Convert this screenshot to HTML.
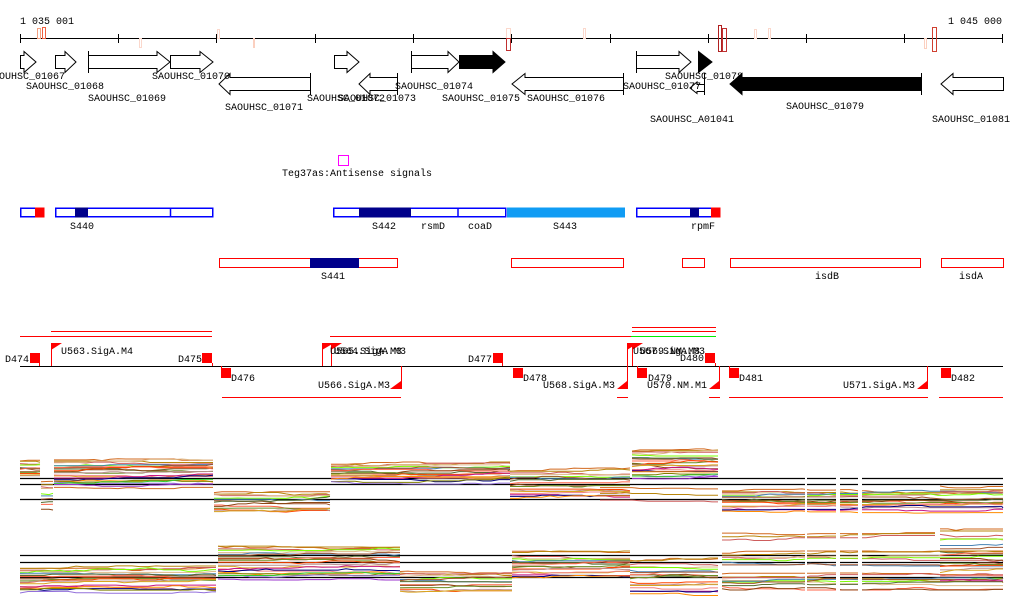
<!DOCTYPE html>
<html><head><meta charset="utf-8"><style>
html,body{margin:0;padding:0;background:#fff;}
svg{display:block;}
text{font-family:"Liberation Mono","DejaVu Sans Mono",monospace;font-size:10px;fill:#000;}
</style></head><body>
<svg id="s" width="1024" height="611" viewBox="0 0 1024 611" xmlns="http://www.w3.org/2000/svg">
<line x1="20" y1="38.5" x2="1002" y2="38.5" stroke="#000"/>
<g stroke="#000">
<line x1="20.5" y1="34" x2="20.5" y2="43"/><line x1="118.5" y1="34" x2="118.5" y2="43"/><line x1="216.5" y1="34" x2="216.5" y2="43"/><line x1="315.5" y1="34" x2="315.5" y2="43"/><line x1="413.5" y1="34" x2="413.5" y2="43"/><line x1="511.5" y1="34" x2="511.5" y2="43"/><line x1="610.5" y1="34" x2="610.5" y2="43"/><line x1="708.5" y1="34" x2="708.5" y2="43"/><line x1="806.5" y1="34" x2="806.5" y2="43"/><line x1="904.5" y1="34" x2="904.5" y2="43"/><line x1="1002.5" y1="34" x2="1002.5" y2="43"/>
</g>
<text x="20" y="24">1 035 001</text>
<text x="1002" y="24" text-anchor="end">1 045 000</text>
<g fill="none">
<rect x="37.5" y="28.5" width="3" height="10" stroke="#f4a080"/>
<rect x="42.5" y="27.5" width="3" height="11" stroke="#f06040"/>
<rect x="139.5" y="38.5" width="2" height="9" stroke="#fbd8cc"/>
<rect x="217.5" y="29.5" width="2" height="9" stroke="#fbd8cc"/>
<rect x="253.5" y="38.5" width="1" height="9" stroke="#fbd0c0"/>
<rect x="506.5" y="28.5" width="4" height="22" stroke="#fbd8cc"/>
<rect x="506.5" y="38.5" width="4" height="12" stroke="#c03030"/>
<rect x="583.5" y="28.5" width="2" height="10" stroke="#fbd8cc"/>
<rect x="718.5" y="25.5" width="3" height="26" stroke="#b02020"/>
<rect x="722.5" y="28.5" width="4" height="23" stroke="#c03030"/>
<rect x="754.5" y="29.5" width="2" height="9" stroke="#fbd8cc"/>
<rect x="768.5" y="28.5" width="2" height="10" stroke="#fbd8cc"/>
<rect x="924.5" y="38.5" width="2" height="10" stroke="#fbd0c0"/>
<rect x="932.5" y="27.5" width="4" height="24" stroke="#d04030"/>
</g>
<g stroke="#000" fill="#fff">
<polygon points="20.5,55.5 24,55.5 24,51.5 36,62 24,72.5 24,68.5 20.5,68.5"/>
<polygon points="55.5,55.5 65,55.5 65,51.5 76,62 65,72.5 65,68.5 55.5,68.5"/>
<polygon points="88.5,55.5 157,55.5 157,51.5 170,62 157,72.5 157,68.5 88.5,68.5"/>
<line x1="88.5" y1="51" x2="88.5" y2="73"/>
<polygon points="170.5,55.5 200,55.5 200,51.5 213,62 200,72.5 200,68.5 170.5,68.5"/>
<polygon points="334.5,55.5 347,55.5 347,51.5 359,62 347,72.5 347,68.5 334.5,68.5"/>
<polygon points="411.5,55.5 448,55.5 448,51.5 459,62 448,72.5 448,68.5 411.5,68.5"/>
<line x1="411.5" y1="51" x2="411.5" y2="73"/>
<polygon points="459.5,55.5 493,55.5 493,51.5 505,62 493,72.5 493,68.5 459.5,68.5" fill="#000"/>
<polygon points="636.5,55.5 679,55.5 679,51.5 691,62 679,72.5 679,68.5 636.5,68.5"/>
<line x1="636.5" y1="51" x2="636.5" y2="73"/>
<polygon points="698.5,51.5 712,62 698.5,72.5" fill="#000"/>
<polygon points="310.5,77.5 230,77.5 230,73.5 219,84 230,94.5 230,90.5 310.5,90.5"/>
<line x1="310.5" y1="73" x2="310.5" y2="95"/>
<polygon points="397.5,77.5 370,77.5 370,73.5 359,84 370,94.5 370,90.5 397.5,90.5"/>
<line x1="397.5" y1="73" x2="397.5" y2="95"/>
<polygon points="623.5,77.5 525,77.5 525,73.5 512,84 525,94.5 525,90.5 623.5,90.5"/>
<line x1="623.5" y1="73" x2="623.5" y2="95"/>
<polygon points="704.5,84.5 697,84.5 697,82 690,88 697,93.5 697,91.5 704.5,91.5"/>
<line x1="704.5" y1="73" x2="704.5" y2="95"/>
<polygon points="921.5,77.5 742,77.5 742,73.5 730,84 742,94.5 742,90.5 921.5,90.5" fill="#000"/>
<line x1="921.5" y1="73" x2="921.5" y2="95"/>
<polygon points="1003.5,77.5 953,77.5 953,73.5 941,84 953,94.5 953,90.5 1003.5,90.5"/>
</g>
<text x="-1" y="79">OUHSC_01067</text>
<text x="26" y="89">SAOUHSC_01068</text>
<text x="88" y="101">SAOUHSC_01069</text>
<text x="152" y="79">SAOUHSC_01070</text>
<text x="225" y="110">SAOUHSC_01071</text>
<text x="307" y="101">SAOUHSC_01072</text>
<text x="338" y="101">SAOUHSC_01073</text>
<text x="395" y="89">SAOUHSC_01074</text>
<text x="442" y="101">SAOUHSC_01075</text>
<text x="527" y="101">SAOUHSC_01076</text>
<text x="623" y="89">SAOUHSC_01077</text>
<text x="665" y="79">SAOUHSC_01078</text>
<text x="650" y="122">SAOUHSC_A01041</text>
<text x="786" y="109">SAOUHSC_01079</text>
<text x="932" y="122">SAOUHSC_01081</text>
<rect x="338.5" y="155.5" width="10" height="10" fill="none" stroke="#f0f"/>
<text x="282" y="176">Teg37as:Antisense signals</text>
<g stroke="#00f" stroke-width="1.5" fill="none">
<rect x="20.75" y="208.25" width="23" height="8.5"/>
<rect x="55.75" y="208.25" width="157" height="8.5"/>
<rect x="333.75" y="208.25" width="172" height="8.5"/>
<rect x="636.75" y="208.25" width="83" height="8.5"/>
</g>
<rect x="35" y="207.5" width="9.5" height="10" fill="#f00"/>
<rect x="75" y="207.5" width="13" height="10" fill="#00008b"/>
<line x1="170.5" y1="208" x2="170.5" y2="217" stroke="#00f" stroke-width="1.5"/>
<rect x="359" y="207.5" width="52" height="10" fill="#00008b"/>
<line x1="458" y1="208" x2="458" y2="217" stroke="#00f" stroke-width="1.5"/>
<rect x="507" y="207.5" width="118" height="10" fill="#109cf4"/>
<rect x="690" y="207.5" width="9" height="10" fill="#00008b"/>
<rect x="711" y="207.5" width="9.5" height="10" fill="#f00"/>
<text x="70" y="229">S440</text><text x="372" y="229">S442</text><text x="421" y="229">rsmD</text><text x="468" y="229">coaD</text><text x="553" y="229">S443</text><text x="691" y="229">rpmF</text>
<g stroke="#f00" fill="none">
<rect x="219.5" y="258.5" width="178" height="9"/>
<rect x="511.5" y="258.5" width="112" height="9"/>
<rect x="682.5" y="258.5" width="22" height="9"/>
<rect x="730.5" y="258.5" width="190" height="9"/>
<rect x="941.5" y="258.5" width="62" height="9"/>
</g>
<rect x="310" y="258" width="49" height="10" fill="#00008b"/>
<text x="321" y="279">S441</text><text x="815" y="279">isdB</text><text x="959" y="279">isdA</text>
<g stroke="#f00">
<line x1="20" y1="336.5" x2="212" y2="336.5"/>
<line x1="51" y1="331.5" x2="212" y2="331.5"/>
<line x1="330" y1="336.5" x2="631" y2="336.5"/>
<line x1="632" y1="327.5" x2="716" y2="327.5"/>
<line x1="632" y1="331.5" x2="716" y2="331.5"/>
<line x1="222" y1="397.5" x2="401" y2="397.5"/>
<line x1="617" y1="397.5" x2="628" y2="397.5"/>
<line x1="709" y1="397.5" x2="720" y2="397.5"/>
<line x1="729" y1="397.5" x2="928" y2="397.5"/>
<line x1="939" y1="397.5" x2="1003" y2="397.5"/>
</g>
<line x1="631" y1="336.5" x2="716" y2="336.5" stroke="#0e0"/>
<line x1="20" y1="366.5" x2="1003" y2="366.5" stroke="#000"/>
<g fill="#f00" stroke="#f00">
<rect x="30" y="353" width="10" height="10" stroke="none"/><line x1="39.5" y1="363" x2="39.5" y2="366"/>
<rect x="202" y="353" width="10" height="10" stroke="none"/><line x1="212.5" y1="363" x2="212.5" y2="366"/>
<rect x="493" y="353" width="10" height="10" stroke="none"/><line x1="502.5" y1="363" x2="502.5" y2="366"/>
<rect x="705" y="353" width="10" height="10" stroke="none"/><line x1="715.5" y1="363" x2="715.5" y2="366"/>
<rect x="221" y="368" width="10" height="10" stroke="none"/><line x1="221.5" y1="366" x2="221.5" y2="368"/>
<rect x="513" y="368" width="10" height="10" stroke="none"/>
<rect x="637" y="368" width="10" height="10" stroke="none"/><line x1="637.5" y1="366" x2="637.5" y2="368"/>
<rect x="729" y="368" width="10" height="10" stroke="none"/><line x1="729.5" y1="366" x2="729.5" y2="368"/>
<rect x="941" y="368" width="10" height="10" stroke="none"/>
<line x1="51.5" y1="343" x2="51.5" y2="366"/><polygon points="51,343 62,343 51,350" stroke="none"/>
<line x1="322.5" y1="343" x2="322.5" y2="366"/><polygon points="322,343 334,343 322,350" stroke="none"/>
<line x1="331.5" y1="343" x2="331.5" y2="366"/><polygon points="331,343 342,343 331,350" stroke="none"/>
<line x1="627.5" y1="343" x2="627.5" y2="366"/><polygon points="627,343 638,343 627,350" stroke="none"/>
<line x1="632.5" y1="343" x2="632.5" y2="366"/><polygon points="632,343 643,343 632,350" stroke="none"/>
<line x1="401.5" y1="366" x2="401.5" y2="389"/><polygon points="401,381 401,389 390,389" stroke="none"/>
<line x1="627.5" y1="366" x2="627.5" y2="389"/><polygon points="627,381 627,389 617,389" stroke="none"/>
<line x1="719.5" y1="366" x2="719.5" y2="389"/><polygon points="719,381 719,389 709,389" stroke="none"/>
<line x1="927.5" y1="366" x2="927.5" y2="389"/><polygon points="927,381 927,389 917,389" stroke="none"/>
</g>
<text x="5" y="362">D474</text><text x="61" y="354">U563.SigA.M4</text><text x="178" y="362">D475</text>
<text x="231" y="381">D476</text><text x="330" y="354">U565.SigA.M3</text><text x="334" y="354">U564.SigA.M3</text>
<text x="318" y="388">U566.SigA.M3</text><text x="468" y="362">D477</text><text x="523" y="381">D478</text>
<text x="543" y="388">U568.SigA.M3</text><text x="633" y="354">U567.SigA.M3</text><text x="640" y="354">U569.NM.M3</text>
<text x="680" y="361">D480</text><text x="648" y="381">D479</text><text x="647" y="388">U570.NM.M1</text>
<text x="739" y="381">D481</text><text x="843" y="388">U571.SigA.M3</text><text x="951" y="381">D482</text>
<g stroke="#000" stroke-width="1.3">
<line x1="20" y1="478.5" x2="1003" y2="478.5"/><line x1="20" y1="484.5" x2="1003" y2="484.5"/><line x1="20" y1="499.5" x2="1003" y2="499.5"/>
<line x1="20" y1="555.5" x2="1003" y2="555.5"/><line x1="20" y1="562.5" x2="1003" y2="562.5"/><line x1="20" y1="577.5" x2="1003" y2="577.5"/>
</g>
<g id="plots" fill="none" stroke-width="1"></g>
<g fill="#fff"><rect x="805" y="470" width="2" height="130"/><rect x="836" y="470" width="4" height="130"/><rect x="858" y="470" width="4" height="130"/></g>
</svg>
<script>
(function(){
var g=document.getElementById('plots');
var cols=['#d2691e','#808000','#ff4500','#7cfc00','#8b008b','#c71585','#ff6347','#b8860b','#9370db','#bc8f8f','#4682b4','#87ceeb','#000080','#8b4513','#cd5c5c','#32cd32','#daa520','#a0522d','#dc143c','#ff8c00','#6b8e23','#deb887','#9932cc','#f08080','#556b2f'];
var seed=7;function r(){seed=(seed*9301+49297)%233280;return seed/233280;}
function seg(x0,x1,y0,y1,n){
 for(var i=0;i<n;i++){
  var y=y0+(y1-y0)*(i/Math.max(1,n-1))+(r()-0.5)*2, pts=[];
  for(var x=x0;;x+=8){ if(x>x1)x=x1; if(r()<0.3) y+=(r()-0.5)*3; if(y<y0-2)y=y0-2; if(y>y1+2)y=y1+2; pts.push(x+','+y.toFixed(1)); if(x>=x1)break;}
  var p=document.createElementNS('http://www.w3.org/2000/svg','polyline');
  p.setAttribute('points',pts.join(' '));p.setAttribute('stroke',cols[(i*7)%cols.length]);g.appendChild(p);
 }
}
seg(20,40,461,476,14);seg(41,53,480,510,10);seg(54,213,460,485,22);seg(54,213,488,490,1);
seg(214,330,492,512,14);seg(331,510,464,482,20);seg(510,630,470,498,18);seg(632,718,450,478,22);seg(600,718,488,500,3);
seg(722,1003,490,512,18);seg(940,1003,484,492,3);
seg(20,216,567,592,20);seg(218,400,546,578,22);seg(400,512,572,592,14);seg(512,630,553,578,18);seg(630,718,560,594,18);
seg(722,935,533,540,3);seg(722,1003,553,564,7);seg(722,1003,575,588,10);seg(940,1003,528,580,16);
})();
</script>
</body></html>
